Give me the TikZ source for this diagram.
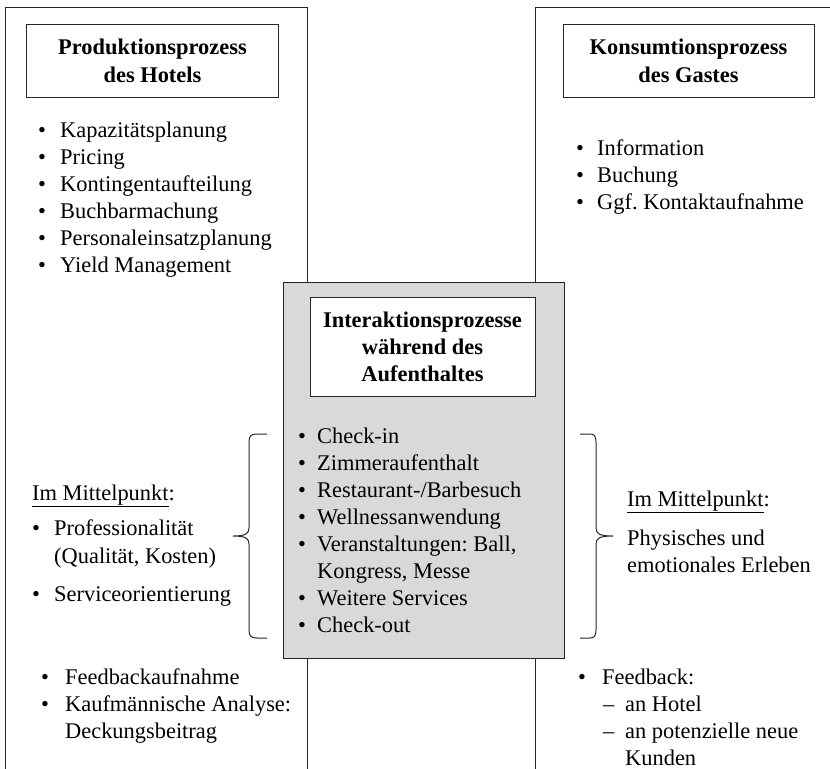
\documentclass[tikz,border=0pt]{standalone}
\usepackage{fontspec}
\setmainfont{Liberation Serif}
\frenchspacing
\definecolor{boxgray}{RGB}{217,217,217}
\colorlet{framecol}{black!85}
\newcommand{\Itm}[1][22bp]{\makebox[#1][l]{\textbullet}}
\newcommand{\Sub}[1][22bp]{\makebox[#1][l]{\textendash}}

\begin{document}
\begin{tikzpicture}[x=1bp,y=-1bp]
\tikzset{FrameStyle/.style={draw=framecol, line width=1bp}}
\tikzset{HeadStyle/.style={FrameStyle, fill=white, minimum width=251bp, minimum height=72bp, inner sep=0, align=center, font=\fontsize{22.5}{28}\selectfont\bfseries}}
\tikzset{ListStyle/.style={anchor=base west, inner sep=0, align=left, font=\fontsize{22.5}{27}\selectfont}}
\useasboundingbox (0,0) rectangle (830,769);
\draw[FrameStyle] (5,769) -- (5,8) -- (307,8) -- (307,769);
\draw[FrameStyle] (535,769) -- (535,8) -- (830,8);
\node[FrameStyle, fill=boxgray, minimum width=281bp, minimum height=376bp] (inter) at (423.5,470) {};
\node[HeadStyle] (hotel) at (152.5,61) {Produktionsprozess\\des Hotels};
\node[HeadStyle] (gast) at (688.5,61) {Konsumtionsprozess\\des Gastes};
\node[HeadStyle, minimum width=225bp, minimum height=99bp, font=\fontsize{22.5}{27}\selectfont\bfseries] (interhead) at (422.5,346.5) {Interaktionsprozesse\\während des\\Aufenthaltes};
\node[ListStyle] (vorher) at (38,272) {\Itm Kapazitätsplanung\\\Itm Pricing\\\Itm Kontingentaufteilung\\\Itm Buchbarmachung\\\Itm Personaleinsatzplanung\\\Itm Yield Management};
\node[ListStyle] (buchung) at (576,209) {\Itm[21bp]Information\\\Itm[21bp]Buchung\\\Itm[21bp]Ggf. Kontaktaufnahme};
\node[ListStyle] (ablauf) at (298,632) {\Itm[19bp]Check-in\\\Itm[19bp]Zimmeraufenthalt\\\Itm[19bp]Restaurant-/Barbesuch\\\Itm[19bp]Wellnessanwendung\\\Itm[19bp]Veranstaltungen: Ball,\\\hspace*{19bp}Kongress, Messe\\\Itm[19bp]Weitere Services\\\Itm[19bp]Check-out};
\node[ListStyle] (fokushotel) at (32,601) {\underline{Im Mittelpunkt}:\\[8bp]\Itm Professionalität\\[1bp]\hspace*{22bp}(Qualität, Kosten)\\[11bp]\Itm Serviceorientierung};
\node[ListStyle] (fokusgast) at (627,572) {\underline{Im Mittelpunkt}:\\[12bp]Physisches und\\emotionales Erleben};
\node[ListStyle] (nachher) at (41,738) {\Itm[24bp]Feedbackaufnahme\\\Itm[24bp]Kaufmännische Analyse:\\\hspace*{24bp}Deckungsbeitrag};
\node[ListStyle] (feedback) at (578,765) {\Itm[24bp]Feedback:\\\hspace*{25bp}\Sub an Hotel\\\hspace*{25bp}\Sub an potenzielle neue\\\hspace*{47bp}Kunden};
\draw[FrameStyle] (267,434) -- (257,434) .. controls (251,434) and (249,436) .. (249,442) -- (249,528) .. controls (249,534) and (245,536) .. (233,536) .. controls (245,536) and (249,538) .. (249,544) -- (249,630) .. controls (249,636) and (251,638) .. (257,638) -- (267,638);
\draw[FrameStyle] (580,434) -- (590,434) .. controls (594,434) and (596,436) .. (596,442) -- (596,528) .. controls (596,534) and (600,536) .. (613,536) .. controls (600,536) and (596,538) .. (596,544) -- (596,630) .. controls (596,636) and (594,638) .. (590,638) -- (580,638);
\end{tikzpicture}
\end{document}
